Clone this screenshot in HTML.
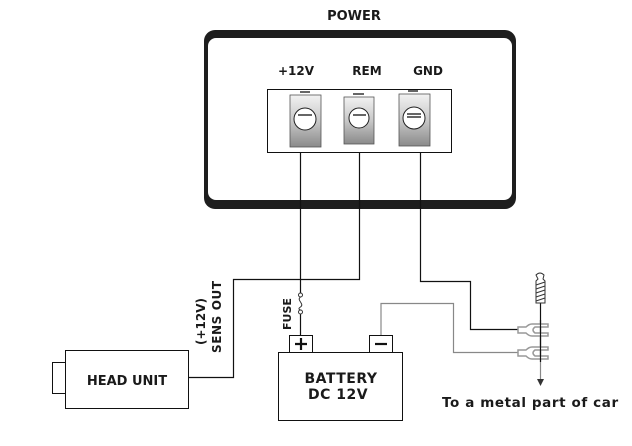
<!DOCTYPE html>
<html><head><meta charset="utf-8"><style>
html,body{margin:0;padding:0;background:#fff;}
svg{display:block;}
text{font-family:"DejaVu Sans","Liberation Sans",sans-serif;font-weight:bold;fill:#1a1a1a;}
</style></head><body>
<svg width="632" height="446" viewBox="0 0 632 446" xmlns="http://www.w3.org/2000/svg">
<defs>
<linearGradient id="tg" x1="0" y1="0" x2="0" y2="1">
<stop offset="0" stop-color="#f2f2f2"/><stop offset="0.5" stop-color="#c8c8c8"/><stop offset="1" stop-color="#8a8a8a"/>
</linearGradient>
</defs>
<text x="354" y="20" font-size="13" text-anchor="middle">POWER</text>
<rect x="204" y="30" width="312" height="179" rx="11" fill="#1e1e1e"/>
<rect x="208" y="38" width="304" height="162" rx="8" fill="#fff"/>
<text x="296" y="75" font-size="12" text-anchor="middle">+12V</text>
<text x="367" y="75" font-size="12" text-anchor="middle">REM</text>
<text x="428" y="75" font-size="12" text-anchor="middle">GND</text>
<rect x="267.5" y="89.5" width="184" height="63" fill="#fff" stroke="#111" stroke-width="1"/>
<g stroke="#555" stroke-width="0.8">
<rect x="290" y="95" width="31" height="52" fill="url(#tg)"/>
<rect x="344" y="97" width="30" height="47" fill="url(#tg)"/>
<rect x="399" y="94" width="31" height="52" fill="url(#tg)"/>
</g>
<g fill="#fff" stroke="#222" stroke-width="1">
<circle cx="305" cy="119" r="11"/><circle cx="359" cy="118" r="10"/><circle cx="414" cy="118" r="11"/>
</g>
<g stroke="#333" stroke-width="1.5">
<line x1="298" y1="115" x2="312" y2="115"/><line x1="353" y1="115" x2="366" y2="115"/><line x1="407" y1="114" x2="421" y2="114"/><line x1="407" y1="117" x2="421" y2="117"/>
<line x1="300" y1="92" x2="310" y2="92"/><line x1="353" y1="94" x2="364" y2="94"/><line x1="408" y1="91" x2="418" y2="91"/>
</g>
<g fill="none" stroke="#111" stroke-width="1.2">
<path d="M300.5 152 V293"/>
<path d="M300.5 314 V335"/>
<path d="M359.5 152 V279.5 H233.5 V377.5 H188"/>
<path d="M420.5 152 V281.5 H470.5 V329.5 H518"/>
<path d="M540.5 303 V360"/>
</g>
<g fill="none" stroke="#888" stroke-width="1.2">
<path d="M381 335 V303.5 H453.5 V352.5 H518"/>
<path d="M540.5 360 V380"/>
</g>
<path d="M537 379 L544 379 L540.5 386 Z" fill="#333"/>
<g fill="none" stroke="#333" stroke-width="1">
<circle cx="300.5" cy="295" r="2"/><circle cx="300.5" cy="312" r="2"/>
<path d="M300.5 297 C296 300,305 304,300.5 307 C297 309,300.5 310,300.5 310"/>
</g>
<text transform="translate(291,330) rotate(-90)" font-size="11">FUSE</text>
<g fill="#fff" stroke="#333" stroke-width="1">
<path d="M536 275 Q540 271 544 275 L543 279 L545 281 L545 303 L536 303 L536 281 L538 279 Z"/>
<path d="M536 285 L545 282 M536 289 L545 286 M536 293 L545 290 M536 297 L545 294 M536 301 L545 298" />
</g>
<g fill="#fff" stroke="#999" stroke-width="1.5">
<path d="M518 327 H526 Q529 324 532 324 H548 V327 H535 Q531 330 535 333 H548 V336 H532 Q529 336 526 333 H518 Z"/>
<path d="M518 350 H526 Q529 347 532 347 H548 V350 H535 Q531 353 535 356 H548 V359 H532 Q529 359 526 356 H518 Z"/>
</g>
<line x1="540.5" y1="320" x2="540.5" y2="362" stroke="#111" stroke-width="1.2"/>
<text x="442" y="407" font-size="13.5" letter-spacing="0.6">To a metal part of car</text>
<rect x="289.5" y="335.5" width="23" height="17" fill="#fff" stroke="#111"/>
<rect x="369.5" y="335.5" width="23" height="17" fill="#fff" stroke="#111"/>
<path d="M295 344 H307 M301 338 V350" stroke="#111" stroke-width="2.2"/>
<path d="M375 344 H387" stroke="#111" stroke-width="2.2"/>
<rect x="278.5" y="352.5" width="124" height="68" fill="#fff" stroke="#111"/>
<text x="341" y="383" font-size="14" text-anchor="middle" letter-spacing="0.5" style="font-weight:600">BATTERY</text>
<text x="338" y="399" font-size="14" text-anchor="middle" letter-spacing="0.5" style="font-weight:600">DC 12V</text>
<rect x="52.5" y="362.5" width="13" height="31" fill="#fff" stroke="#111"/>
<rect x="65.5" y="350.5" width="123" height="58" fill="#fff" stroke="#111"/>
<text x="127" y="385" font-size="13" text-anchor="middle">HEAD UNIT</text>
<text transform="translate(205,345) rotate(-90)" font-size="12">(+12V)</text>
<text transform="translate(221,353) rotate(-90)" font-size="12" letter-spacing="0.6">SENS OUT</text>
</svg>
</body></html>
